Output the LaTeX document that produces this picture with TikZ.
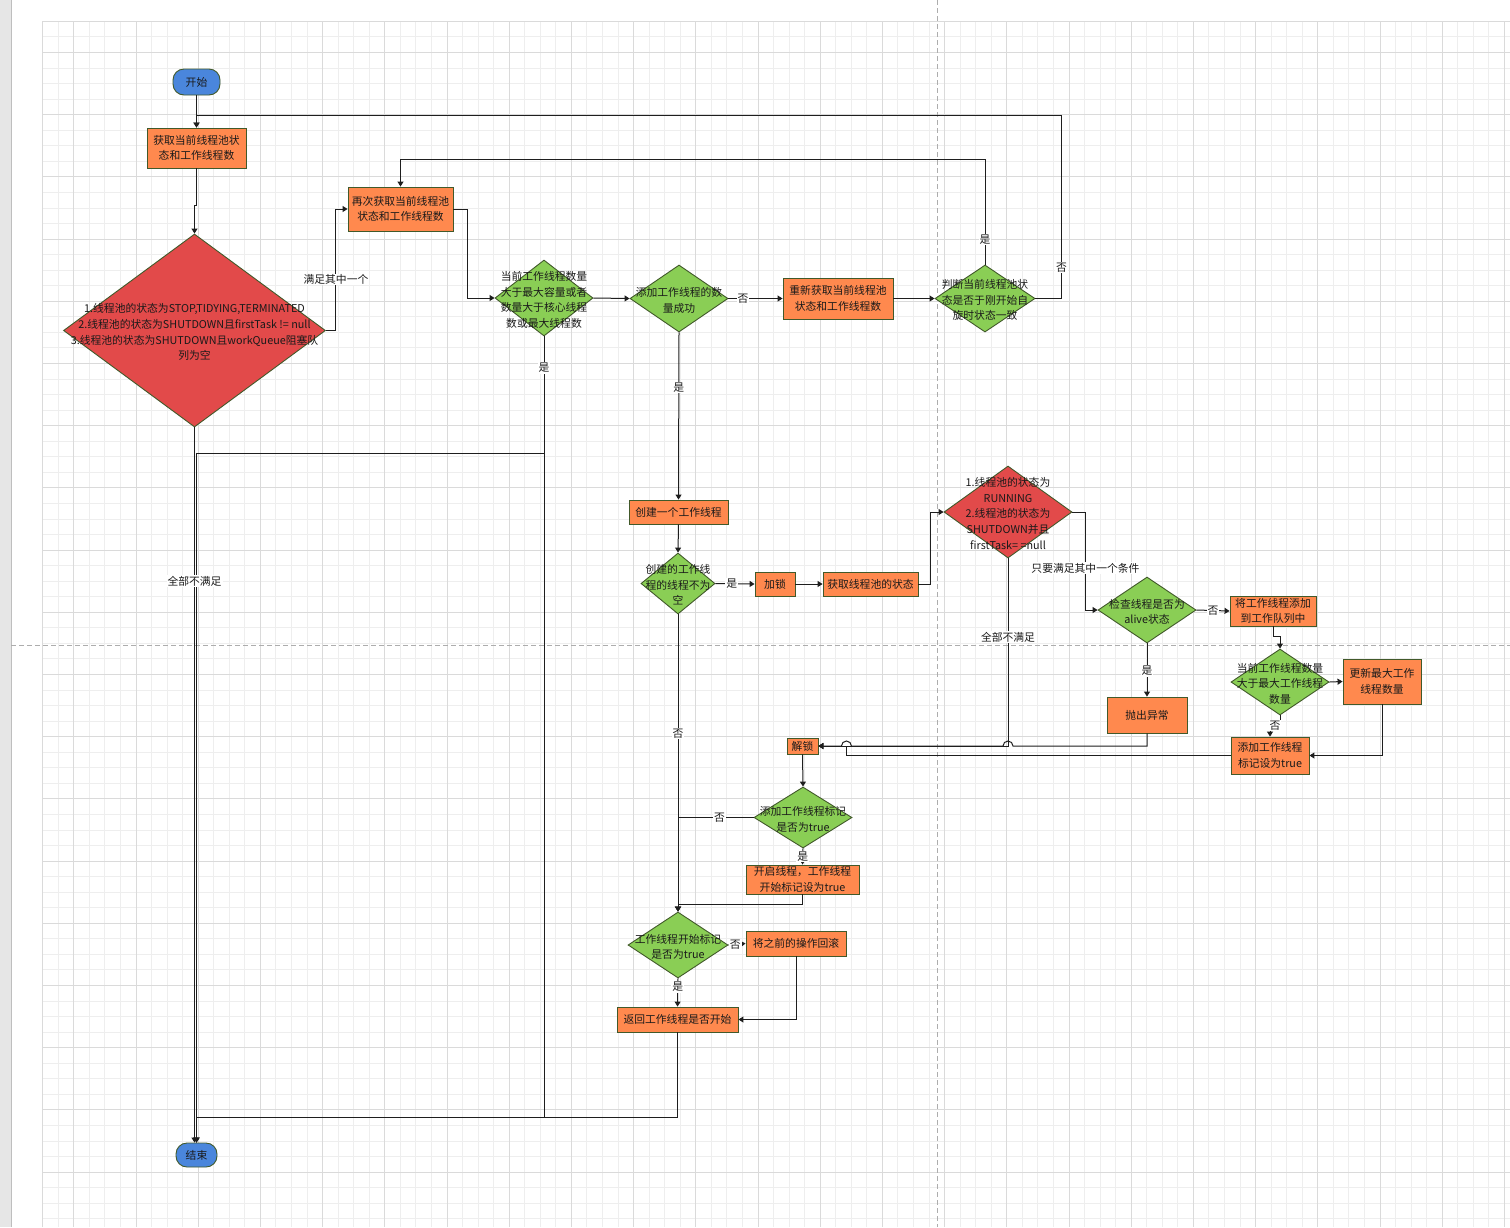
\documentclass[tikz,border=0pt]{standalone}
\usepackage{fontspec}
\setmainfont{Noto Sans CJK SC}
\usepackage{xcolor}
\usepackage{tikz}
\usetikzlibrary{shapes.geometric,arrows.meta,positioning,calc}
\definecolor{naranja}{HTML}{FF894E}
\definecolor{verde}{HTML}{8ACE55}
\definecolor{rojo}{HTML}{E24A4A}
\definecolor{azul}{HTML}{4A86DC}
\definecolor{borde}{HTML}{41592A}
\definecolor{negro}{HTML}{1E1E1E}
\definecolor{texto}{HTML}{1A1A1A}
\definecolor{gris}{HTML}{E6E6E6}
\definecolor{grisborde}{HTML}{BEBEBE}
\definecolor{cuadfina}{HTML}{EEEEEE}
\definecolor{cuadgruesa}{HTML}{DADADA}
\definecolor{corte}{HTML}{ADADAD}
\newcommand{\fuente}{\fontsize{10.8}{15.6}\selectfont}
\newcommand{\txtrombo}[1]{\raisebox{-5.5pt}[0pt][0pt]{\makebox[0pt]{\begin{tabular}{@{}c@{}}#1\end{tabular}}}}

\begin{document}
\begin{tikzpicture}[x=1pt,y=-1pt,
  caja/.style={draw=borde,fill=naranja,line width=0.9pt,inner sep=0pt,align=center,font=\fuente,text=texto},
  rombo/.style={diamond,draw=borde,fill=verde,line width=0.9pt,inner sep=0pt,font=\fuente,text=texto},
  extremo/.style={draw=borde,fill=azul,line width=0.9pt,rounded corners=11pt,inner sep=0pt,font=\fuente,text=texto},
  etiq/.style={fill=white,inner sep=1pt,font=\fuente,text=texto},
  flecha/.style={-{Triangle[length=5pt,width=6pt]},line width=1pt,draw=negro}]
  \useasboundingbox (0,0) rectangle (1510,1227);
  % fondo: cuadricula del editor
  \fill[white] (0,0) rectangle (1510,1227);
  \fill[gris] (0,0) rectangle (11,1227);
  \draw[grisborde,line width=0.8pt] (11,0) -- (11,1227);
  \foreach \i in {0,...,94}
    \draw[cuadfina,line width=0.6pt] ({42.5+\i*15.55},21.2) -- ({42.5+\i*15.55},1227);
  \foreach \j in {0,...,77}
    \draw[cuadfina,line width=0.6pt] (42.5,{21.2+\j*15.55}) -- (1510,{21.2+\j*15.55});
  \foreach \i in {0,...,23}
    \draw[cuadgruesa,line width=0.8pt] ({73.7+\i*62.2},21.2) -- ({73.7+\i*62.2},1227);
  \foreach \j in {0,...,18}
    \draw[cuadgruesa,line width=0.8pt] (42.5,{52.3+\j*62.2}) -- (1510,{52.3+\j*62.2});
  \draw[cuadgruesa,line width=0.8pt] (42.5,1227) -- (42.5,21.2) -- (1510,21.2);
  \draw[corte,line width=0.8pt,dash pattern=on 5pt off 3pt] (937,0) -- (937,1227);
  \draw[corte,line width=0.8pt,dash pattern=on 5pt off 3pt] (11,645) -- (1510,645);

  % nodos
  \node[extremo,minimum width=47pt,minimum height=26pt] (inicio) at (196.5,82) {开始};
  \node[caja,minimum width=99pt,minimum height=40pt] (obt1) at (196.5,148) {获取当前线程池状\\态和工作线程数};
  \node[rombo,fill=rojo,minimum width=262pt,minimum height=193pt] (d1) at (194.5,330.5)
    {\txtrombo{1.线程池的状态为STOP,TIDYING,TERMINATED\\2.线程池的状态为SHUTDOWN且firstTask != null\\3.线程池的状态为SHUTDOWN且workQueue阻塞队\\列为空}};
  \node[caja,minimum width=105pt,minimum height=44pt] (obt2) at (400.5,209) {再次获取当前线程池\\状态和工作线程数};
  \node[rombo,minimum width=98pt,minimum height=76pt] (d2) at (544,298)
    {\txtrombo{当前工作线程数量\\大于最大容量或者\\数量大于核心线程\\数或最大线程数}};
  \node[rombo,minimum width=98pt,minimum height=67pt] (d3) at (679,298.5) {\txtrombo{添加工作线程的数\\量成功}};
  \node[caja,minimum width=110pt,minimum height=41pt] (obt3) at (838,298.5) {重新获取当前线程池\\状态和工作线程数};
  \node[rombo,minimum width=100pt,minimum height=67pt] (d4) at (985,298.5)
    {\txtrombo{判断当前线程池状\\态是否于刚开始自\\旋时状态一致}};
  \node[caja,minimum width=99pt,minimum height=24pt] (crear) at (678.5,512) {创建一个工作线程};
  \node[rombo,minimum width=74pt,minimum height=61pt] (d5) at (678,583.5) {\txtrombo{创建的工作线\\程的线程不为\\空}};
  \node[caja,minimum width=40pt,minimum height=24pt] (bloq) at (775,584) {加锁};
  \node[caja,minimum width=95pt,minimum height=24pt] (estado) at (870.5,584) {获取线程池的状态};
  \node[rombo,fill=rojo,minimum width=128pt,minimum height=92pt] (d6) at (1008,512)
    {\txtrombo{1.线程池的状态为\\RUNNING\\2.线程池的状态为\\SHUTDOWN并且\\firstTask= =null}};
  \node[rombo,minimum width=98pt,minimum height=66pt] (d7) at (1147,610) {\txtrombo{检查线程是否为\\alive状态}};
  \node[caja,minimum width=86pt,minimum height=30pt] (encola) at (1273,611) {将工作线程添加\\到工作队列中};
  \node[caja,minimum width=80pt,minimum height=36pt] (lanza) at (1147,715) {抛出异常};
  \node[rombo,minimum width=98pt,minimum height=66pt] (d8) at (1280,682)
    {\txtrombo{当前工作线程数量\\大于最大工作线程\\数量}};
  \node[caja,minimum width=78pt,minimum height=45pt] (actmax) at (1382,681.5) {更新最大工作\\线程数量};
  \node[caja,minimum width=78pt,minimum height=37pt] (marca) at (1270,755.5) {添加工作线程\\标记设为true};
  \node[caja,minimum width=31pt,minimum height=16pt] (desbloq) at (802.5,746) {解锁};
  \node[rombo,minimum width=98pt,minimum height=61pt] (d9) at (803,817.5) {\txtrombo{添加工作线程标记\\是否为true}};
  \node[caja,minimum width=113pt,minimum height=29pt] (inicia) at (802.5,879.5) {开启线程，工作线程\\开始标记设为true};
  \node[rombo,minimum width=100pt,minimum height=66pt] (d10) at (678,945) {\txtrombo{工作线程开始标记\\是否为true}};
  \node[caja,minimum width=100pt,minimum height=25pt] (revert) at (796,943.5) {将之前的操作回滚};
  \node[caja,minimum width=121pt,minimum height=25pt] (ret) at (677.5,1019.5) {返回工作线程是否开始};
  \node[extremo,minimum width=41pt,minimum height=24pt] (fin) at (196.5,1155) {结束};

  % conexiones
  \draw[flecha] (inicio.south) -- (obt1.north);
  \draw[flecha] (obt1.south) -- ++(0,37) -| (d1.north);
  \draw[flecha] (d1.east) -- ++(10,0) |- node[etiq,pos=.21]{满足其中一个} (obt2.west);
  \draw[flecha] (obt2.east) -- ++(14,0) |- (d2.west);
  \draw[flecha] (d2.east) -- (d3.west);
  \draw[flecha] (d3.east) -- node[etiq,pos=.27]{否} (obt3.west);
  \draw[flecha] (obt3.east) -- (d4.west);
  \draw[flecha] (d4.north) -- node[etiq,pos=.24]{是} ++(0,-105) -| (obt2.north);
  \draw[flecha] (d4.east) -- ++(26,0) -- node[etiq,pos=.17]{否} ++(0,-183.5) -| (obt1.north);
  \draw[flecha] (d2.south) -- ++(0,781) -| (fin.north);
  \draw[flecha] (d2.south) -- node[etiq,pos=.27]{是} ++(0,117) -| (fin.north);
  \draw[flecha] (ret.south) -- ++(0,85) -| (fin.north);
  \draw[flecha] (d1.south) -- node[etiq,pos=.215]{全部不满足} (d1.south |- fin.north);
  \draw[flecha] (d3.south) -- node[etiq,pos=.33]{是} (crear.north);
  \draw[flecha] (crear.south) -- (d5.north);
  \draw[flecha] (d5.east) -- node[etiq,pos=.42]{是} (bloq.west);
  \draw[flecha] (bloq.east) -- (estado.west);
  \draw[flecha] (estado.east) -- ++(12,0) |- (d6.west);
  \draw[flecha] (d6.east) -- ++(13,0) |- node[etiq,pos=.286]{只要满足其中一个条件} (d7.west);
  \draw[flecha] (d7.east) -- node[etiq,pos=.5]{否} (encola.west);
  \draw[flecha] (d7.south) -- node[etiq,pos=.52]{是} (lanza.north);
  \draw[flecha] (encola.south) -- ++(0,10) -| (d8.north);
  \draw[flecha] (d8.east) -- (actmax.west);
  \draw[flecha] (d8.south) -- ++(0,10) -| node[etiq,pos=.25]{否} (marca.north);
  \draw[flecha] (actmax.south) |- (marca.east);
  \draw[flecha] (d6.south) |- node[etiq,pos=.21]{全部不满足} (desbloq.east);
  \draw[flecha] (marca.west) -| ($(desbloq.east)+(28,0)$) -- (desbloq.east);
  \draw[flecha] (lanza.south) |- ($(d6.south |- desbloq.east)+(5,0)$)
    arc[start angle=0,end angle=180,radius=5pt] -- ($(desbloq.east)+(33,0)$)
    arc[start angle=0,end angle=180,radius=5pt] -- (desbloq.east);
  \draw[flecha] (desbloq.south) -- (d9.north);
  \draw[flecha] (d5.south) -- node[etiq,pos=.4]{否} (d10.north);
  \draw[flecha] (d9.west) -- node[etiq,pos=.45]{否} (d9.west -| d10.north) -- (d10.north);
  \draw[flecha] (d9.south) -- node[etiq,pos=.5]{是} (inicia.north);
  \draw[flecha] (inicia.south) -- ++(0,10) -| (d10.north);
  \draw[flecha] (d10.east) -- node[etiq,pos=.4]{否} (revert.west);
  \draw[flecha] (revert.south) |- (ret.east);
  \draw[flecha] (d10.south) -- node[etiq,pos=.3]{是} (ret.north);
\end{tikzpicture}
\end{document}
